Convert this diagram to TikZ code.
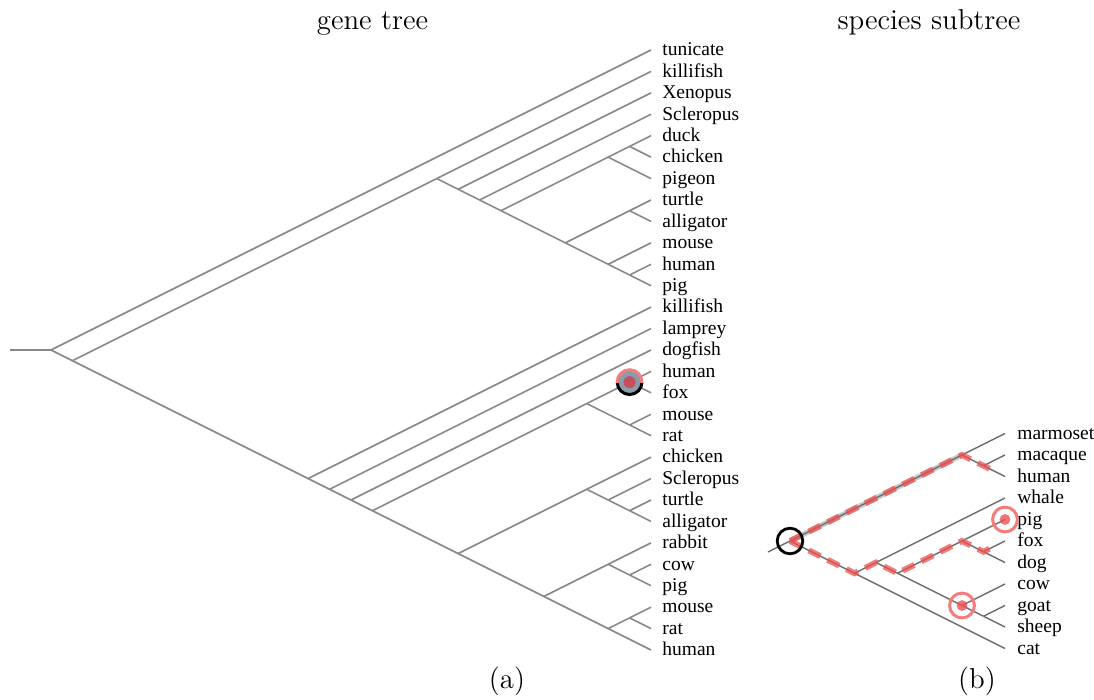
\documentclass[tikz,border=0pt]{standalone}
\usepackage{fontspec}
\newfontfamily\leaffont{Liberation Serif}
\usetikzlibrary{calc}
\definecolor{genegray}{HTML}{888888}
\definecolor{spgray}{HTML}{6E6E6E}
\definecolor{glowgray}{HTML}{CACACA}
\definecolor{pinkring}{HTML}{F47C7C}
\definecolor{markfill}{HTML}{8C9BAA}
\definecolor{markdot}{HTML}{C5505C}
\definecolor{hlred}{HTML}{EE5050}

% gene tree: node spanning leaves #2..#3 of a slanted cladogram
\newcommand\gnode[3]{\coordinate (#1) at ({651-(#3-#2)*21.4286},{50+((#2+#3)/2-1)*21.4286});}
% species tree: same layout, own leaf column and spacing
\newcommand\snode[3]{\coordinate (#1) at ({1005-(#3-#2)*21.5},{433.5+((#2+#3)/2-1)*21.5});}

\begin{document}
\begin{tikzpicture}[x=0.5pt,y=-0.5pt,
  gedge/.style={draw=genegray, line width=0.8pt},
  sedge/.style={draw=spgray, line width=0.7pt},
  leaflabel/.style={anchor=mid west, inner sep=0pt, font=\leaffont\fontsize{9.75}{11}\selectfont},
  title/.style={anchor=base, inner sep=0pt, font=\fontsize{14.4}{17}\selectfont},
  hlpath/.style={draw=hlred, draw opacity=0.75, line width=3pt, dash pattern=on 6.5pt off 4pt},
  glow/.style={draw=glowgray, line width=2.6pt},
  ring/.style={draw=pinkring, line width=1.5pt},
  ringdot/.style={fill=hlred, fill opacity=0.8}]
\useasboundingbox (0,0) rectangle (1094,700);

% ---------------- gene tree ----------------
\foreach \i/\t in {1/tunicate,2/killifish,3/Xenopus,4/Scleropus,5/duck,6/chicken,7/pigeon,
  8/turtle,9/alligator,10/mouse,11/human,12/pig,13/killifish,14/lamprey,15/dogfish,
  16/human,17/fox,18/mouse,19/rat,20/chicken,21/Scleropus,22/turtle,23/alligator,
  24/rabbit,25/cow,26/pig,27/mouse,28/rat,29/human}{
  \coordinate (g\i) at (651,{50+(\i-1)*21.4286});
  \node[leaflabel] (gt\i) at (662,{51.5+(\i-1)*21.4286}) {\t};
}
\gnode{gR}{1}{29}  \gnode{gA}{2}{29}  \gnode{gB}{2}{12}  \gnode{gC}{3}{12}
\gnode{gD}{4}{12}  \gnode{gE}{5}{12}  \gnode{gF}{5}{7}   \gnode{gG}{5}{6}
\gnode{gH}{8}{12}  \gnode{gI}{8}{9}   \gnode{gJ}{10}{12} \gnode{gK}{11}{12}
\gnode{gM}{13}{29} \gnode{gN}{14}{29} \gnode{gO}{15}{29} \gnode{gP}{16}{29}
\gnode{gQ}{16}{19} \gnode{gS}{16}{17} \gnode{gT}{18}{19} \gnode{gU}{20}{29}
\gnode{gV}{20}{23} \gnode{gW}{21}{23} \gnode{gX}{22}{23} \gnode{gY}{24}{29}
\gnode{gZ}{24}{26} \gnode{gZb}{25}{26} \gnode{gAA}{27}{29} \gnode{gAB}{27}{28}
\coordinate (gstem) at (10,350);

\foreach \p/\c in {gstem/gR, gR/g1, gR/gA, gA/gB, gA/gM, gB/g2, gB/gC, gC/g3, gC/gD,
  gD/g4, gD/gE, gE/gF, gE/gH, gF/gG, gF/g7, gG/g5, gG/g6, gH/gI, gH/gJ, gI/g8, gI/g9,
  gJ/g10, gJ/gK, gK/g11, gK/g12, gM/g13, gM/gN, gN/g14, gN/gO, gO/g15, gO/gP,
  gP/gQ, gP/gU, gQ/gS, gQ/gT, gS/g16, gS/g17, gT/g18, gT/g19, gU/gV, gU/gY,
  gV/g20, gV/gW, gW/g21, gW/gX, gX/g22, gX/g23, gY/gZ, gY/gAA, gZ/g24, gZ/gZb,
  gZb/g25, gZb/g26, gAA/gAB, gAA/g29, gAB/g27, gAB/g28}
  \draw[gedge] (\p) -- (\c);

% marked gene node
\fill[markfill] (gS) circle[radius=6.2pt];
\begin{scope}
  \clip (gS) ++(-20,-20) rectangle ++(40,21);
  \draw[ring] (gS) circle[radius=6.2pt];
\end{scope}
\begin{scope}
  \clip (gS) ++(-20,1) rectangle ++(40,20);
  \draw[black, line width=1.5pt] (gS) circle[radius=6.2pt];
\end{scope}
\fill[markdot] (gS) circle[radius=3pt];

% ---------------- species subtree ----------------
\foreach \i/\t in {1/marmoset,2/macaque,3/human,4/whale,5/pig,6/fox,7/dog,
  8/cow,9/goat,10/sheep,11/cat}{
  \coordinate (s\i) at (1005,{433.5+(\i-1)*21.5});
  \node[leaflabel] (st\i) at (1017,{435+(\i-1)*21.5}) {\t};
}
\snode{sR}{1}{11} \snode{sa}{1}{3} \snode{sb}{2}{3} \snode{sc}{4}{11}
\snode{sd}{4}{10} \snode{se}{5}{10} \snode{sf}{5}{7} \snode{sg}{6}{7}
\snode{sh}{8}{10} \snode{si}{9}{10}
\coordinate (sstem) at (768,552);

\draw[glow] (sR) -- (sa);
\foreach \p/\c in {sstem/sR, sR/sa, sR/sc, sa/s1, sa/sb, sb/s2, sb/s3, sc/sd, sc/s11,
  sd/s4, sd/se, se/sf, se/sh, sf/s5, sf/sg, sg/s6, sg/s7, sh/s8, sh/si, si/s9, si/s10}
  \draw[sedge] (\p) -- (\c);

% highlighted paths from the subtree root
\draw[hlpath] (sR) -- (sa) -- (sb) -- ($(sb)!0.5!(s3)$);
\draw[hlpath] (sR) -- (sc) -- (sd) -- (se) -- (sf) -- (sg) -- ($(sg)!0.5!(s6)$);

% marked species nodes
\draw[black, line width=1.4pt] (sR) circle[radius=6.4pt];
\foreach \n in {s5, sh}{
  \draw[ring] (\n) circle[radius=6.2pt];
  \fill[ringdot] (\n) circle[radius=2.7pt];
}

% ---------------- titles and captions ----------------
\node[title] (ttl1) at (372.5,30) {gene tree};
\node[title] (ttl2) at (929,30) {species subtree};
\node[title] (cap1) at (507,689) {(a)};
\node[title] (cap2) at (977,689) {(b)};
\end{tikzpicture}
\end{document}
